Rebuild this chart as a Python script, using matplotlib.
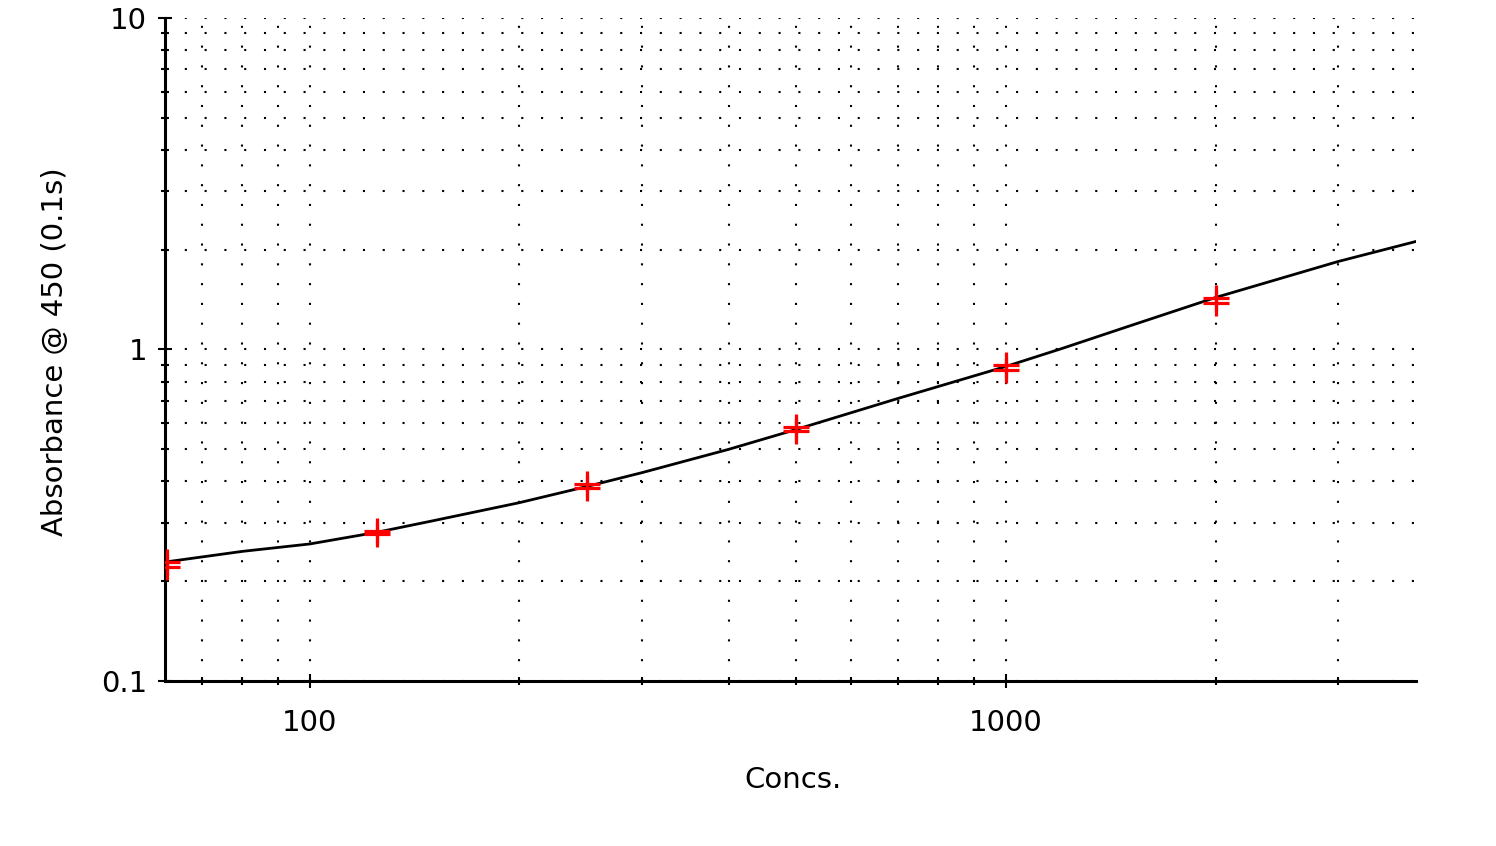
import numpy as np
import matplotlib
matplotlib.use('Agg')
import matplotlib.pyplot as plt
from matplotlib.ticker import LogLocator, NullFormatter, FixedLocator, FixedFormatter

# Standard points (two replicates per concentration)
conc = [62.5, 62.5, 125, 125, 250, 250, 500, 500, 1000, 1000, 2000, 2000]
absorb = [0.228, 0.2215, 0.284, 0.277, 0.394, 0.381, 0.582, 0.566, 0.895, 0.865, 1.435, 1.386]

# Fitted curve
curve_x = [62.5, 80, 100, 125, 150, 200, 250, 300, 400, 500, 700, 1000, 1200, 1500, 2000, 3000, 3880]
curve_y = [0.229, 0.246, 0.259, 0.281, 0.304, 0.345, 0.386, 0.425, 0.500, 0.574, 0.712, 0.889,
           1.005, 1.175, 1.435, 1.843, 2.118]

x_ticks = [100, 1000]
x_ticklabels = ['100', '1000']
y_ticks = [0.1, 1, 10]
y_ticklabels = ['0.1', '1', '10']

plt.rcParams['font.family'] = ['DejaVu Sans']

fig = plt.figure(figsize=(14.96, 8.46), dpi=100)
ax = fig.add_axes([165 / 1496, 1 - 681 / 846, (1416 - 165) / 1496, (681 - 18) / 846])

ax.set_xscale('log')
ax.set_yscale('log')
ax.set_xlim(62, 3880)
ax.set_ylim(0.1, 10)

ax.plot(curve_x, curve_y, color='black', lw=2.0, zorder=3)
ax.plot(conc, absorb, linestyle='none', marker='+', color='red', markersize=19, mew=2.3, zorder=4)

# ticks
ax.xaxis.set_major_locator(FixedLocator(x_ticks))
ax.xaxis.set_major_formatter(FixedFormatter(x_ticklabels))
ax.xaxis.set_minor_locator(LogLocator(base=10, subs=np.arange(2, 10)))
ax.xaxis.set_minor_formatter(NullFormatter())
ax.yaxis.set_major_locator(FixedLocator(y_ticks))
ax.yaxis.set_major_formatter(FixedFormatter(y_ticklabels))
ax.yaxis.set_minor_locator(LogLocator(base=10, subs=np.arange(2, 10)))
ax.yaxis.set_minor_formatter(NullFormatter())

ax.tick_params(which='major', direction='inout', length=10, width=1.5, labelsize=21)
ax.tick_params(which='minor', direction='inout', length=6, width=1.5)
ax.tick_params(axis='x', which='major', pad=15)
ax.tick_params(axis='y', which='major', pad=8)

# dotted grid
dots = (0, (1, 8.5))
ax.grid(True, which='both', color='black', linestyle=dots, lw=1.5)

for side in ['top', 'right']:
    ax.spines[side].set_visible(False)
for side in ['left', 'bottom']:
    ax.spines[side].set_linewidth(2.2)
    ax.spines[side].set_color('black')

ax.set_xlabel('Concs.', fontsize=21, va='center')
ax.xaxis.set_label_coords(0.502, (681 - 780) / 663)
ax.set_ylabel('Absorbance @ 450 (0.1s)', fontsize=21, va='center')
ax.yaxis.set_label_coords((55 - 165) / 1251, (681 - 352) / 663)

fig.savefig('out.png', dpi=100, facecolor='white')
